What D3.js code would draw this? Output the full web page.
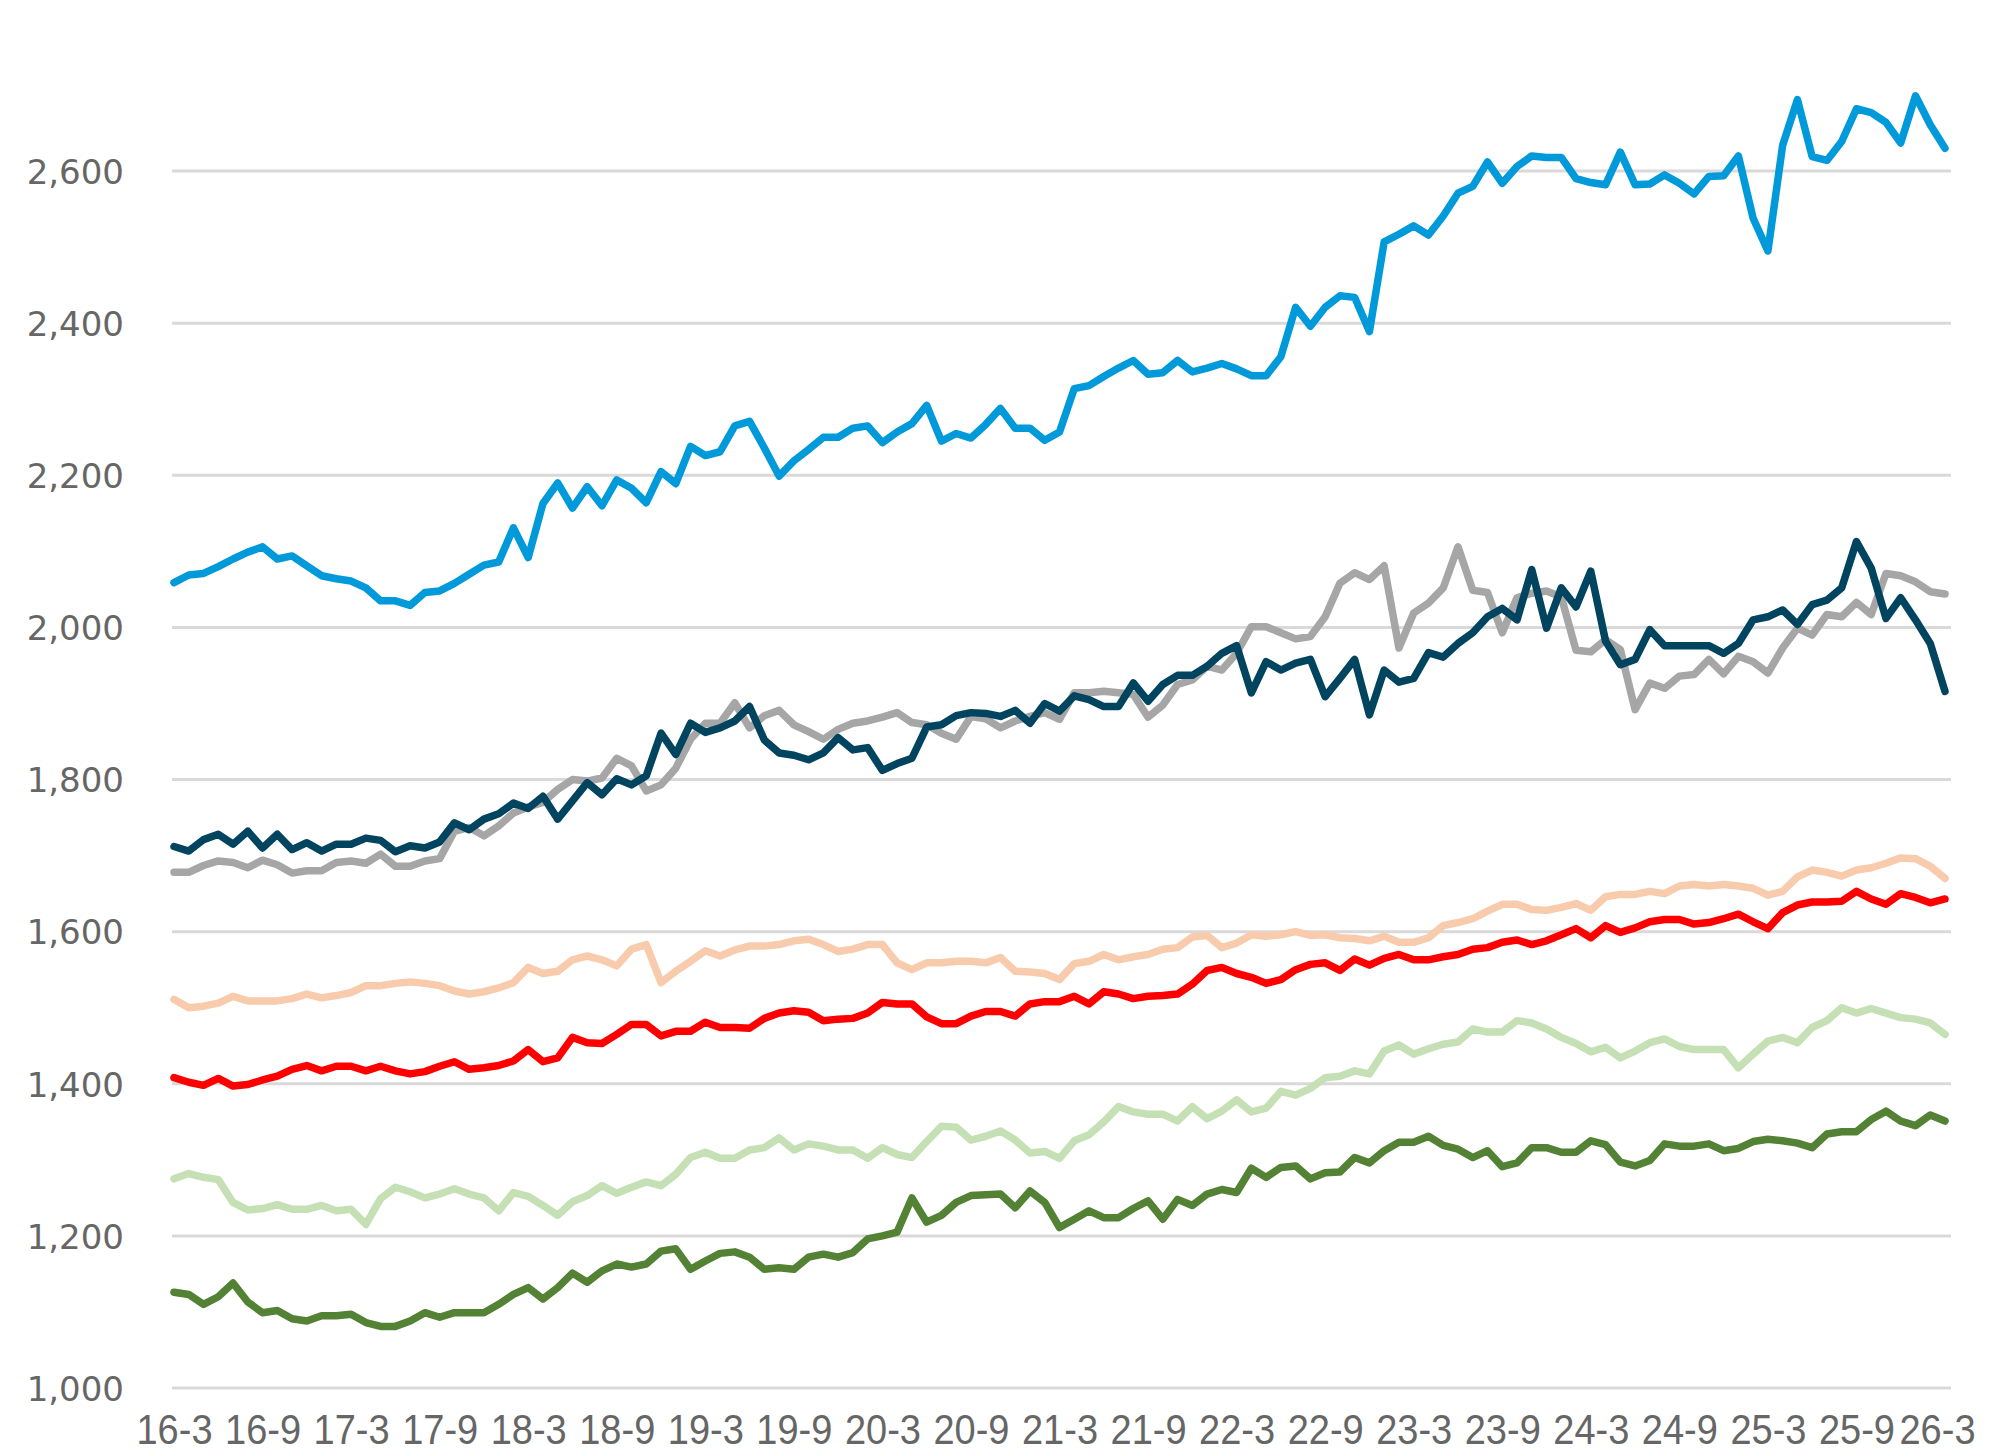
<!DOCTYPE html>
<html>
<head>
<meta charset="utf-8">
<script src="https://cdn.jsdelivr.net/npm/d3@7"></script>
<style>
  html, body { margin: 0; padding: 0; background: #fff; }
  #chart { width: 1990px; height: 1456px; }
  .grid line { stroke: #d9d9d9; stroke-width: 3; }
  .y-label { font-family: "DejaVu Sans", Verdana, sans-serif; font-size: 34px; fill: #666666; }
  .x-label { font-family: "Liberation Sans", Arial, sans-serif; font-size: 42px; fill: #666666; }
  .series { fill: none; stroke-width: 7.5; stroke-linejoin: round; stroke-linecap: round; }
</style>
</head>
<body>
<div id="chart"></div>
<script>
// Monthly points, 2016-3 .. 2026-3 (121 months)
var X_TICK_LABELS = ["16-3", "16-9", "17-3", "17-9", "18-3", "18-9", "19-3", "19-9",
  "20-3", "20-9", "21-3", "21-9", "22-3", "22-9", "23-3", "23-9", "24-3", "24-9",
  "25-3", "25-9", "26-3"];
var Y_TICKS = [1000, 1200, 1400, 1600, 1800, 2000, 2200, 2400, 2600];

var BLUE = [2059, 2069, 2071, 2080, 2090, 2099, 2106, 2090, 2094, 2081, 2068, 2064, 2061, 2052, 2035, 2035, 2029, 2046, 2048, 2058,
  2070, 2082, 2086, 2131, 2092, 2163, 2190, 2157, 2185, 2160, 2194, 2183, 2164, 2205, 2189, 2238, 2226, 2231, 2265, 2271,
  2236, 2199, 2219, 2234, 2250, 2250, 2262, 2265, 2243, 2257, 2268, 2292, 2245, 2255, 2249, 2267, 2288, 2262, 2262, 2246,
  2257, 2314, 2318, 2330, 2341, 2351, 2333, 2335, 2351, 2336, 2341, 2347, 2340, 2331, 2331, 2356, 2421, 2396, 2421, 2436,
  2434, 2389, 2507, 2517, 2528, 2516, 2541, 2571, 2580, 2612, 2584, 2606, 2620, 2618, 2618, 2590, 2585, 2582, 2625, 2582,
  2583, 2595, 2584, 2570, 2593, 2594, 2620, 2538, 2495, 2634, 2694, 2619, 2614, 2639, 2682, 2677, 2664, 2637, 2699, 2661,
  2630];

var GRAY = [1678, 1678, 1687, 1693, 1691, 1684, 1694, 1688, 1677, 1680, 1680, 1691, 1693, 1690, 1702, 1686, 1686, 1693, 1696, 1732,
  1737, 1726, 1739, 1756, 1764, 1770, 1787, 1800, 1798, 1802, 1828, 1818, 1785, 1793, 1815, 1853, 1874, 1874, 1901, 1868,
  1884, 1891, 1872, 1863, 1853, 1866, 1874, 1877, 1882, 1888, 1875, 1872, 1861, 1853, 1883, 1880, 1868, 1877, 1883, 1888,
  1879, 1914, 1914, 1916, 1914, 1912, 1882, 1898, 1925, 1931, 1949, 1944, 1966, 2001, 2001, 1993, 1985, 1988, 2014, 2058,
  2072, 2063, 2081, 1973, 2019, 2032, 2052, 2106, 2049, 2046, 1993, 2039, 2045, 2048, 2040, 1970, 1968, 1984, 1971, 1892,
  1927, 1920, 1936, 1938, 1958, 1939, 1962, 1955, 1940, 1973, 1999, 1990, 2017, 2014, 2033, 2017, 2071, 2068, 2060, 2047,
  2044];

var NAVY = [1712, 1706, 1721, 1728, 1715, 1732, 1710, 1728, 1708, 1717, 1706, 1715, 1715, 1723, 1720, 1705, 1713, 1710, 1718, 1743,
  1734, 1748, 1755, 1769, 1762, 1778, 1748, 1772, 1796, 1780, 1801, 1793, 1805, 1861, 1833, 1874, 1862, 1868, 1877, 1896,
  1852, 1835, 1832, 1826, 1835, 1855, 1839, 1842, 1812, 1821, 1828, 1869, 1872, 1884, 1888, 1887, 1883, 1891, 1874, 1900,
  1890, 1910, 1905, 1896, 1896, 1927, 1903, 1925, 1937, 1937, 1949, 1966, 1976, 1914, 1955, 1944, 1953, 1958, 1909, 1933,
  1958, 1885, 1944, 1928, 1933, 1967, 1961, 1979, 1993, 2014, 2025, 2010, 2076, 1999, 2052, 2027, 2074, 1982, 1951, 1958,
  1997, 1976, 1976, 1976, 1976, 1966, 1979, 2010, 2014, 2023, 2004, 2030, 2036, 2052, 2113, 2078, 2012, 2039, 2010, 1979,
  1916];

var PEACH = [1511, 1500, 1502, 1506, 1515, 1509, 1509, 1509, 1512, 1518, 1513, 1516, 1520, 1529, 1529, 1532, 1534, 1532, 1529, 1522,
  1518, 1521, 1526, 1533, 1553, 1545, 1548, 1563, 1568, 1563, 1555, 1577, 1583, 1533, 1548, 1561, 1575, 1568, 1576, 1581,
  1581, 1583, 1588, 1590, 1583, 1574, 1577, 1583, 1583, 1559, 1550, 1559, 1559, 1561, 1561, 1559, 1566, 1548, 1547, 1545,
  1537, 1558, 1561, 1570, 1563, 1567, 1570, 1577, 1579, 1593, 1595, 1579, 1585, 1596, 1594, 1596, 1600, 1595, 1596, 1592,
  1591, 1588, 1594, 1586, 1586, 1592, 1608, 1612, 1617, 1627, 1636, 1636, 1629, 1628, 1632, 1637, 1628, 1646, 1649, 1649,
  1653, 1650, 1660, 1662, 1660, 1662, 1660, 1657, 1648, 1653, 1672, 1681, 1678, 1673, 1681, 1684, 1690, 1697, 1696, 1686,
  1670];

var RED = [1408, 1402, 1398, 1407, 1397, 1399, 1405, 1410, 1419, 1424, 1417, 1423, 1423, 1417, 1423, 1417, 1413, 1416, 1423, 1429,
  1419, 1421, 1424, 1430, 1445, 1429, 1434, 1461, 1454, 1453, 1465, 1478, 1478, 1463, 1469, 1469, 1481, 1474, 1474, 1473,
  1486, 1493, 1496, 1494, 1483, 1485, 1486, 1493, 1507, 1505, 1505, 1488, 1479, 1479, 1489, 1495, 1495, 1489, 1505, 1508,
  1508, 1515, 1505, 1521, 1518, 1512, 1515, 1516, 1518, 1531, 1549, 1553, 1545, 1540, 1532, 1537, 1550, 1557, 1559, 1549,
  1564, 1556, 1565, 1570, 1563, 1563, 1567, 1570, 1577, 1579, 1586, 1589, 1583, 1588, 1596, 1604, 1592, 1608, 1599, 1605,
  1613, 1616, 1616, 1610, 1612, 1617, 1623, 1613, 1604, 1625, 1635, 1639, 1639, 1640, 1653, 1643, 1636, 1650, 1645, 1638,
  1643];

var LIGHT_GREEN = [1275, 1282, 1277, 1274, 1244, 1234, 1236, 1241, 1235, 1235, 1240, 1233, 1235, 1215, 1249, 1264, 1258, 1250, 1255, 1262,
  1255, 1250, 1233, 1257, 1252, 1240, 1227, 1245, 1253, 1266, 1256, 1264, 1271, 1266, 1281, 1303, 1310, 1302, 1302, 1313,
  1316, 1329, 1313, 1321, 1318, 1313, 1313, 1302, 1316, 1307, 1303, 1324, 1344, 1343, 1326, 1331, 1338, 1326, 1309, 1311,
  1302, 1325, 1333, 1350, 1370, 1363, 1360, 1360, 1351, 1370, 1354, 1364, 1379, 1363, 1368, 1390, 1385, 1394, 1408, 1410,
  1417, 1413, 1443, 1451, 1439, 1446, 1452, 1455, 1472, 1468, 1468, 1483, 1480, 1472, 1461, 1453, 1442, 1448, 1434, 1443,
  1454, 1459, 1449, 1445, 1445, 1445, 1421, 1439, 1456, 1461, 1454, 1474, 1483, 1500, 1493, 1499, 1493, 1487, 1485, 1480,
  1465];

var DARK_GREEN = [1126, 1123, 1110, 1120, 1138, 1113, 1099, 1102, 1091, 1088, 1095, 1095, 1097, 1086, 1081, 1081, 1088, 1099, 1093, 1099,
  1099, 1099, 1110, 1123, 1132, 1117, 1132, 1151, 1139, 1154, 1163, 1159, 1163, 1180, 1183, 1156, 1167, 1177, 1179, 1172,
  1156, 1158, 1156, 1172, 1176, 1172, 1178, 1196, 1200, 1205, 1250, 1218, 1227, 1244, 1253, 1254, 1255, 1237, 1259, 1244,
  1211, 1222, 1233, 1224, 1224, 1236, 1246, 1222, 1248, 1240, 1255, 1261, 1257, 1289, 1277, 1290, 1292, 1275, 1283, 1284,
  1303, 1296, 1312, 1323, 1323, 1331, 1319, 1314, 1303, 1312, 1291, 1296, 1316, 1316, 1310, 1310, 1325, 1320, 1297, 1292,
  1299, 1321, 1318, 1318, 1321, 1312, 1315, 1324, 1327, 1325, 1322, 1316, 1334, 1337, 1337, 1353, 1364, 1351, 1345, 1359,
  1351];

// drawing order: bottom first
var SERIES = [
  { name: "dark-green", values: DARK_GREEN, color: "#548235" },
  { name: "light-green", values: LIGHT_GREEN, color: "#c5e0b4" },
  { name: "peach", values: PEACH, color: "#f8cbad" },
  { name: "red", values: RED, color: "#ff0000" },
  { name: "gray", values: GRAY, color: "#a6a6a6" },
  { name: "navy", values: NAVY, color: "#00445f" },
  { name: "blue", values: BLUE, color: "#0099d9" }
];

var render = function() {
  var width = 1990;
  var height = 1456;
  var margins = { top: 19, right: 42, bottom: 68, left: 174 };
  var chartWidth = width - margins.left - margins.right;
  var chartHeight = height - margins.top - margins.bottom;
  var numPoints = BLUE.length;

  var svg = d3.select("#chart")
    .append("svg")
    .attr("width", width)
    .attr("height", height);

  var chartElement = svg.append("g")
    .attr("transform", "translate(" + margins.left + "," + margins.top + ")");

  var xScale = d3.scaleLinear()
    .domain([0, numPoints - 1])
    .range([0, chartWidth - 3]);

  var yScale = d3.scaleLinear()
    .domain([1000, 2800])
    .range([chartHeight, 0]);

  // grid
  chartElement.append("g")
    .attr("class", "grid")
    .selectAll("line")
    .data(Y_TICKS)
    .enter()
    .append("line")
    .attr("x1", xScale(0) - 2)
    .attr("x2", xScale(numPoints - 1) + 6)
    .attr("y1", d => yScale(d))
    .attr("y2", d => yScale(d));

  // y axis labels
  var yAxis = d3.axisLeft(yScale)
    .tickValues(Y_TICKS)
    .tickSize(0)
    .tickPadding(50)
    .tickFormat(d3.format(","));

  var yAxisG = chartElement.append("g").call(yAxis);
  yAxisG.select(".domain").remove();
  yAxisG.selectAll("text")
    .attr("class", "y-label")
    .attr("fill", null)
    .attr("font-size", null)
    .attr("font-family", null)
    .attr("dy", "0.36em");

  // x axis labels
  var xAxis = d3.axisBottom(xScale)
    .tickValues(X_TICK_LABELS.map((d, i) => i * 6))
    .tickSize(0)
    .tickPadding(0)
    .tickFormat((d, i) => X_TICK_LABELS[i]);

  var xAxisG = chartElement.append("g")
    .attr("transform", "translate(0," + chartHeight + ")")
    .call(xAxis);
  xAxisG.select(".domain").remove();
  xAxisG.selectAll("text")
    .attr("class", "x-label")
    .attr("fill", null)
    .attr("font-size", null)
    .attr("font-family", null)
    .attr("y", 56)
    .attr("dy", null)
    .attr("textLength", 76)
    .attr("lengthAdjust", "spacingAndGlyphs");

  // keep the last label inside the picture
  xAxisG.selectAll(".tick").filter((d, i) => i === X_TICK_LABELS.length - 1)
    .select("text")
    .attr("text-anchor", "end")
    .attr("x", 30);

  // lines
  var line = d3.line()
    .x((d, i) => xScale(i))
    .y(d => yScale(d));

  chartElement.append("g")
    .attr("class", "lines")
    .selectAll("path")
    .data(SERIES)
    .enter()
    .append("path")
    .attr("class", d => "series " + d.name)
    .attr("stroke", d => d.color)
    .attr("d", d => line(d.values));
};

window.onload = render;
</script>
</body>
</html>
